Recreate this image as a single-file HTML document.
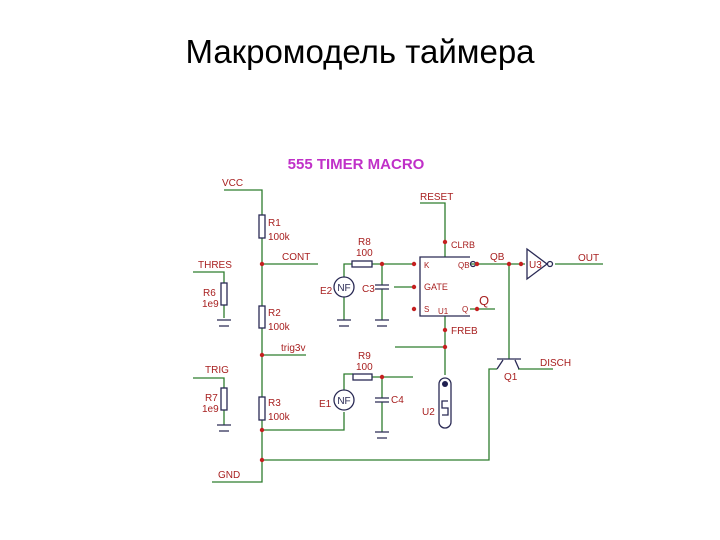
<!DOCTYPE html>
<html><head><meta charset="utf-8"><style>
body{margin:0;background:#fff;width:720px;height:540px;overflow:hidden}
svg{display:block}
.w{stroke:#2e7d2e;stroke-width:1.3;fill:none}
.c{stroke:#2a2a55;stroke-width:1.3;fill:none}
.l{fill:#a82020;font-family:"Liberation Sans",sans-serif;font-size:10px}
.d{fill:#c42020}
</style></head><body>
<svg width="720" height="540" viewBox="0 0 720 540">
<text x="360" y="63" text-anchor="middle" font-family="Liberation Sans, sans-serif" font-size="33" fill="#000">Макромодель таймера</text>
<text x="356" y="169" text-anchor="middle" font-family="Liberation Sans, sans-serif" font-size="15" font-weight="bold" fill="#c030c8">555 TIMER MACRO</text>
<path class="w" d="M224 190H262V215M262 238V306M262 328V397M262 420V482H212"/>
<path class="w" d="M262 264H318M193 272H224V283M224 305V318M262 355H306M193 378H224V388M224 410V425"/>
<path class="w" d="M262 430H344V412M262 460H489V369H497"/>
<path class="w" d="M344 277V264H352M372 264H414M382 264V285M382 289V320M344 297V320"/>
<path class="w" d="M394 287H414M420 203H445V257M445 316V375M395 347H445"/>
<path class="w" d="M470 264H525M555 264H603M509 264V359M470 309H495M518 369H553"/>
<path class="w" d="M344 390V374H353M372 377H413M382 377V398M382 402V432"/>
<rect class="c" x="259" y="215" width="6" height="23"/>
<rect class="c" x="259" y="306" width="6" height="22"/>
<rect class="c" x="259" y="397" width="6" height="23"/>
<rect class="c" x="221" y="283" width="6" height="22"/>
<rect class="c" x="221" y="388" width="6" height="22"/>
<rect class="c" x="352" y="261" width="20" height="6"/>
<rect class="c" x="353" y="374" width="19" height="6"/>
<path class="c" d="M217 320H231M219 326H229M337 320H351M339 326H349M375 320H389M377 326H387M217 425H231M219 431H229M375 432H389M377 438H387"/>
<path class="c" d="M375 285H389M375 289H389M375 398H389M375 402H389"/>
<circle class="c" cx="344" cy="287" r="10"/><text x="344" y="291" text-anchor="middle" font-size="10" font-family="Liberation Sans" fill="#2a2a55">NF</text>
<circle class="c" cx="344" cy="400" r="10"/><text x="344" y="404" text-anchor="middle" font-size="10" font-family="Liberation Sans" fill="#2a2a55">NF</text>
<path class="c" d="M470 257H420V316H470"/>
<circle class="c" cx="473" cy="264" r="2.5"/>
<path class="c" d="M527 249L547 264L527 279Z"/><circle class="c" cx="550" cy="264" r="2.5"/>
<rect class="c" x="439" y="378" width="12" height="50" rx="6"/>
<path class="c" d="M442 415H448V408H442V401H448"/>
<path class="c" d="M497 359H521M503 360L497 369M515 360L519 369" stroke-width="2"/>
<g class="d">
<circle cx="262" cy="264" r="2.2"/><circle cx="262" cy="355" r="2.2"/><circle cx="262" cy="430" r="2.2"/><circle cx="262" cy="460" r="2.2"/>
<circle cx="382" cy="264" r="2.2"/><circle cx="414" cy="264" r="2.2"/><circle cx="414" cy="287" r="2.2"/><circle cx="414" cy="309" r="2.2"/>
<circle cx="445" cy="242" r="2.2"/><circle cx="477" cy="264" r="2.2"/><circle cx="509" cy="264" r="2.2"/><circle cx="521" cy="264" r="2.2"/>
<circle cx="477" cy="309" r="2.2"/><circle cx="445" cy="330" r="2.2"/><circle cx="445" cy="347" r="2.2"/><circle cx="382" cy="377" r="2.2"/>
<circle cx="445" cy="384" r="3" fill="#202050"/>
</g>
<g class="l">
<text x="222" y="186">VCC</text><text x="268" y="226">R1</text><text x="268" y="240">100k</text>
<text x="282" y="260">CONT</text><text x="198" y="268">THRES</text><text x="203" y="296">R6</text><text x="202" y="307">1e9</text>
<text x="268" y="316">R2</text><text x="268" y="330">100k</text><text x="281" y="351">trig3v</text>
<text x="205" y="373">TRIG</text><text x="205" y="401">R7</text><text x="202" y="412">1e9</text>
<text x="268" y="406">R3</text><text x="268" y="420">100k</text><text x="218" y="478">GND</text>
<text x="358" y="245">R8</text><text x="356" y="256">100</text><text x="320" y="294">E2</text><text x="362" y="292">C3</text>
<text x="358" y="359">R9</text><text x="356" y="370">100</text><text x="319" y="407">E1</text><text x="391" y="403">C4</text>
<text x="420" y="200">RESET</text><text x="451" y="248" font-size="9">CLRB</text><text x="424" y="268" font-size="8">K</text>
<text x="424" y="290" font-size="9">GATE</text><text x="424" y="312" font-size="8">S</text><text x="458" y="268" font-size="8">QB</text><text x="462" y="312" font-size="8">Q</text>
<text x="438" y="314" font-size="8">U1</text><text x="451" y="334">FREB</text>
<text x="490" y="260">QB</text><text x="529" y="268">U3</text><text x="578" y="261">OUT</text>
<text x="479" y="305" font-size="13">Q</text><text x="422" y="415">U2</text>
<text x="540" y="366">DISCH</text><text x="504" y="380">Q1</text>
</g>
</svg>
</body></html>
